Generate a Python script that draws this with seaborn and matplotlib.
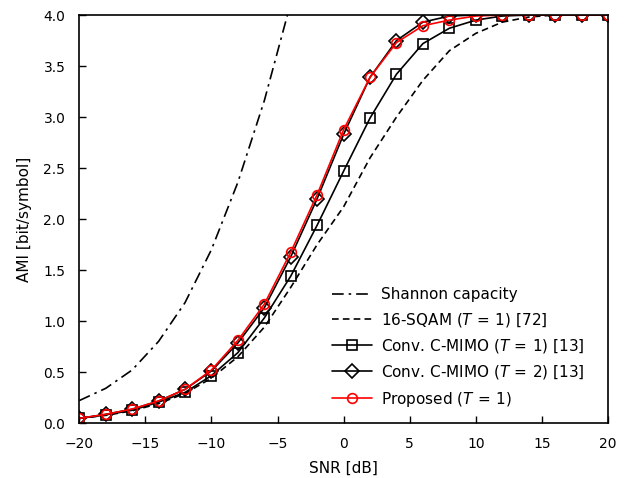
import numpy as np
import pandas as pd
import matplotlib
matplotlib.use("Agg")
import matplotlib.pyplot as plt
import seaborn as sns

# SNR grid of the simulated points
snr = [-20, -18, -16, -14, -12, -10, -8, -6, -4, -2, 0, 2, 4, 6, 8, 10, 12, 14, 16, 18, 20]

# values
shannon_snr = [-20, -18, -16, -14, -12, -10, -8, -6, -4]
shannon = [0.22, 0.34, 0.52, 0.80, 1.18, 1.70, 2.36, 3.16, 4.12]
sqam = [0.045, 0.075, 0.12, 0.19, 0.29, 0.44, 0.65, 0.94, 1.33, 1.75, 2.12,
        2.60, 3.00, 3.36, 3.65, 3.82, 3.93, 3.98, 4.0, 4.0, 4.0]
cmimo_t1 = [0.045, 0.08, 0.125, 0.205, 0.30, 0.465, 0.69, 1.03, 1.44, 1.94, 2.47,
            2.99, 3.42, 3.72, 3.87, 3.95, 3.99, 4.0, 4.0, 4.0, 4.0]
cmimo_t2 = [0.045, 0.085, 0.135, 0.215, 0.33, 0.51, 0.785, 1.13, 1.63, 2.20, 2.83,
            3.39, 3.75, 3.93, 3.99, 4.0, 4.0, 4.0, 4.0, 4.0, 4.0]
proposed = [0.046, 0.085, 0.137, 0.216, 0.33, 0.52, 0.81, 1.165, 1.675, 2.24, 2.875,
            3.39, 3.73, 3.895, 3.95, 3.99, 4.0, 4.0, 4.0, 4.0, 4.0]

sns.set_style("ticks")
plt.rcParams["font.family"] = ["DejaVu Sans"]
plt.rcParams["mathtext.fontset"] = "dejavusans"
plt.rcParams["font.size"] = 11
plt.rcParams["text.color"] = "black"
plt.rcParams["axes.labelcolor"] = "black"
plt.rcParams["xtick.color"] = "black"
plt.rcParams["ytick.color"] = "black"

fig = plt.figure(figsize=(6.29, 4.78), dpi=100)
ax = fig.add_axes([0.126, 0.115, 0.8406, 0.8536])

df_sh = pd.DataFrame({"snr": shannon_snr, "ami": shannon})
df = pd.DataFrame({"snr": snr, "sqam": sqam, "t1": cmimo_t1,
                   "t2": cmimo_t2, "prop": proposed})

lw = 1.2
sns.lineplot(data=df_sh, x="snr", y="ami", ax=ax, color="black", lw=lw,
             linestyle=(0, (7, 3, 1.5, 3)), label="Shannon capacity")
sns.lineplot(data=df, x="snr", y="sqam", ax=ax, color="black", lw=lw,
             linestyle=(0, (4, 2.5)), label=r"16-SQAM ($T\,=\,1$) [72]")
sns.lineplot(data=df, x="snr", y="t1", ax=ax, color="black", lw=lw,
             marker="s", ms=7.5, mfc="none", mec="black", mew=lw,
             label=r"Conv. C-MIMO ($T\,=\,1$) [13]")
sns.lineplot(data=df, x="snr", y="t2", ax=ax, color="black", lw=lw,
             marker="D", ms=7.5, mfc="none", mec="black", mew=lw,
             label=r"Conv. C-MIMO ($T\,=\,2$) [13]")
sns.lineplot(data=df, x="snr", y="prop", ax=ax, color="red", lw=lw,
             marker="o", ms=7, mfc="none", mec="red", mew=lw,
             label=r"Proposed ($T\,=\,1$)")

ax.set_xlim(-20, 20)
ax.set_ylim(0, 4)
ax.set_xticks(np.arange(-20, 21, 5))
ax.set_yticks(np.arange(0, 4.01, 0.5))
ax.set_yticklabels([f"{v:.1f}" for v in np.arange(0, 4.01, 0.5)])
ax.tick_params(direction="in", length=5, width=1.0, top=False, right=False,
               labelsize=10)
ax.tick_params(axis="x", pad=10)
ax.tick_params(axis="y", pad=10)
for s in ax.spines.values():
    s.set_linewidth(1.2)
    s.set_color("black")
ax.set_xlabel("SNR [dB]", labelpad=7)
ax.set_ylabel("AMI [bit/symbol]", labelpad=8)

ax.legend(loc="lower left", bbox_to_anchor=(0.478, 0.035), frameon=False,
          borderpad=0, borderaxespad=0, handlelength=2.6, handletextpad=0.6,
          labelspacing=0.55)

fig.savefig("out.png", dpi=100)
